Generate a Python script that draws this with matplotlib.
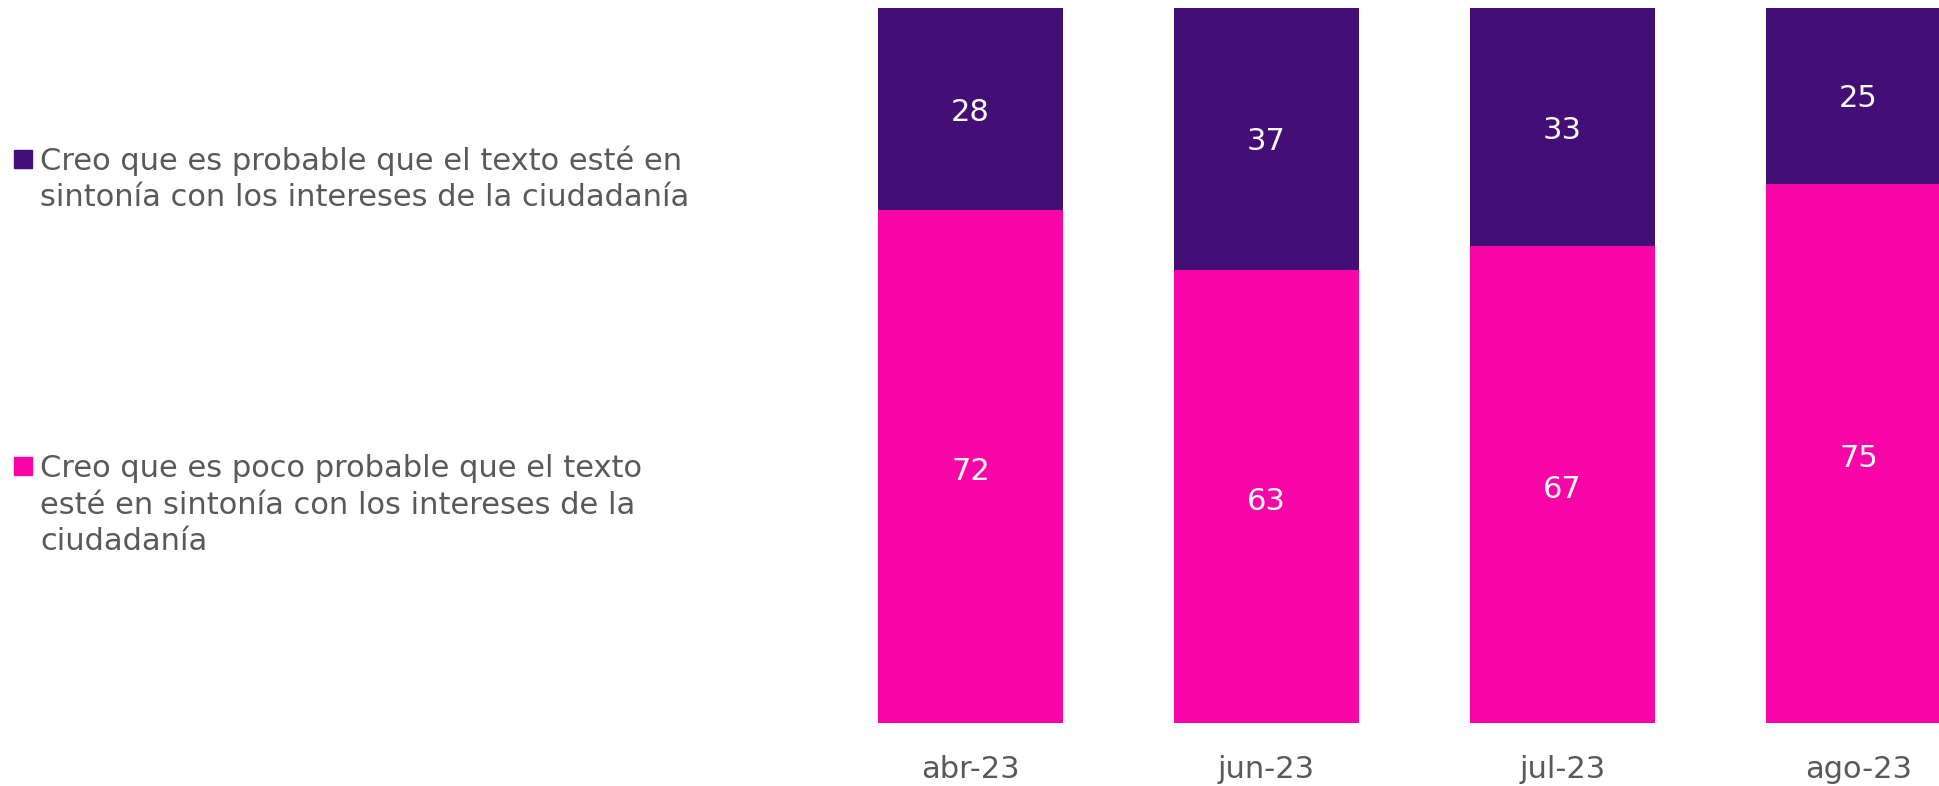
import matplotlib
matplotlib.use("Agg")
import matplotlib.pyplot as plt
from matplotlib.patches import Rectangle
import numpy as np

categories = ["abr-23", "jun-23", "jul-23", "ago-23"]
poco_probable = [71.7, 63.4, 66.7, 75.4]
probable = [28.3, 36.6, 33.3, 24.6]
label_probable = "Creo que es probable que el texto esté en\nsintonía con los intereses de la ciudadanía"
label_poco = "Creo que es poco probable que el texto\nesté en sintonía con los intereses de la\nciudadanía"

PURPLE = "#430E75"
PINK = "#F705A6"
GRAY = "#595959"
FONT = "DejaVu Sans"
FS = 22

W, H = 1939, 786
fig = plt.figure(figsize=(W/100, H/100), dpi=100)

left_px, right_px = 822, 1939
bottom_px, top_px = 723, 8
ax = fig.add_axes([left_px/W, 1 - bottom_px/H, (right_px-left_px)/W, (bottom_px-top_px)/H])
c0, step = 970.5, 296.0
ax.set_xlim((left_px - c0)/step, (right_px - c0)/step)
ax.set_ylim(0, 100)

x = np.arange(len(categories))
width = 185/step
ax.bar(x, poco_probable, width, color=PINK)
ax.bar(x, probable, width, bottom=poco_probable, color=PURPLE)

for i in range(len(categories)):
    ax.text(x[i], poco_probable[i]/2 - 0.3, f"{round(poco_probable[i])}", ha="center",
            va="center_baseline", color="white", fontsize=FS, family=FONT)
    ax.text(x[i], poco_probable[i] + probable[i]/2, f"{round(probable[i])}", ha="center",
            va="center_baseline", color="white", fontsize=FS, family=FONT)

ax.set_xticks(x)
ax.set_xticklabels(categories, fontsize=FS, color=GRAY, family=FONT)
ax.tick_params(axis="x", length=0, pad=23)
ax.set_yticks([])
for s in ax.spines.values():
    s.set_visible(False)

def legend_item(ypx, top_off, color, text):
    sq = 18
    fig.patches.append(Rectangle((14/W, 1 - (ypx + sq/2)/H), sq/W, sq/H,
                                 transform=fig.transFigure, color=color, figure=fig))
    fig.text(40/W, 1 - (ypx + top_off)/H, text, ha="left", va="top", fontsize=FS,
             color=GRAY, family=FONT, linespacing=1.33)

legend_item(159, -14, PURPLE, label_probable)
legend_item(466, -12, PINK, label_poco)

fig.savefig("out.png", dpi=100, facecolor="white")
